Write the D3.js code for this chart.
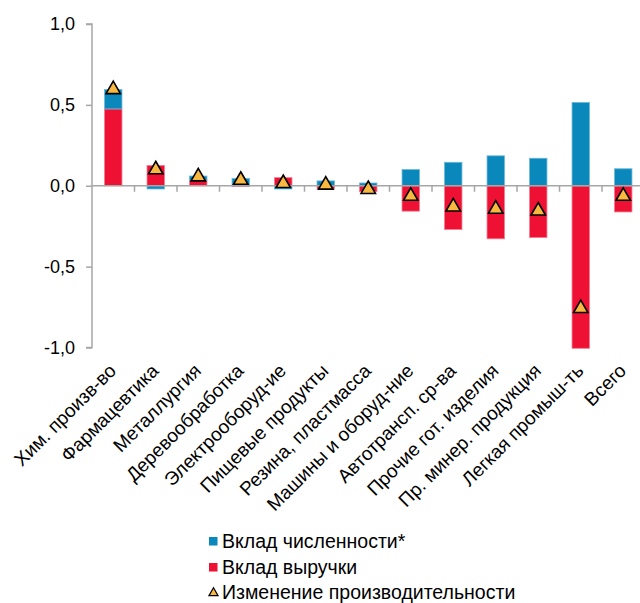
<!DOCTYPE html>
<html>
<head>
<meta charset="utf-8">
<script src="https://cdn.jsdelivr.net/npm/d3@7/dist/d3.min.js"></script>
<style>
  html, body { margin: 0; padding: 0; background: #fff; }
  svg { display: block; font-family: Arial, "Liberation Sans", sans-serif; }
</style>
</head>
<body>
<svg id="chart" width="640" height="603"></svg>
<script>
// Industry breakdown: contributions of headcount and revenue to productivity change
const categories = [
  "Хим. произв-во", "Фармацевтика", "Металлургия", "Деревообработка",
  "Электрооборуд-ие", "Пищевые продукты", "Резина, пластмасса",
  "Машины и оборуд-ние", "Автотрансп. ср-ва", "Прочие гот. изделия",
  "Пр. минер. продукция", "Легкая промыш-ть", "Всего"
];
const headcountContribution = [0.12, -0.02, 0.025, 0.045, -0.02, 0.03, 0.017, 0.10, 0.145, 0.185, 0.17, 0.515, 0.105];
const revenueContribution   = [0.475, 0.125, 0.035, -0.005, 0.05, -0.02, -0.037, -0.157, -0.27, -0.328, -0.32, -1.005, -0.162];
const productivityChange    = [0.595, 0.10, 0.056, 0.035, 0.015, 0.005, -0.022, -0.064, -0.13, -0.144, -0.155, -0.758, -0.064];
const yTicks = [1.0, 0.5, 0.0, -0.5, -1.0];
const legendLabels = ["Вклад численности*", "Вклад выручки", "Изменение производительности"];

const COLOR_HEAD = "#0a88bc";
const COLOR_REV = "#ee1133";
const COLOR_TRI = "#f9b840";
const AXIS = "#a6a6a6";

const svg = d3.select("#chart");
const plotLeft = 92, plotRight = 644.5, plotTop = 24, plotBottom = 347.5;

const x = d3.scaleBand().domain(categories).range([plotLeft, plotRight]).paddingInner(0.59).paddingOuter(0.295);
const y = d3.scaleLinear().domain([-1, 1]).range([plotBottom, plotTop]);

const rows = categories.map((c, i) => ({
  cat: c, revenue: revenueContribution[i], headcount: headcountContribution[i]
}));
const stack = d3.stack().keys(["revenue", "headcount"]).offset(d3.stackOffsetDiverging);
const series = stack(rows);
const colors = { revenue: COLOR_REV, headcount: COLOR_HEAD };
const strokes = { revenue: "#f27a8e", headcount: "#6cb8d8" };

// stacked bars
svg.append("g").selectAll("g").data(series).join("g")
  .attr("fill", s => colors[s.key])
  .attr("stroke", s => strokes[s.key])
  .attr("stroke-width", 0.8)
  .selectAll("rect").data(s => s).join("rect")
  .attr("x", d => x(d.data.cat))
  .attr("width", x.bandwidth())
  .attr("y", d => y(Math.max(d[0], d[1])))
  .attr("height", d => Math.abs(y(d[0]) - y(d[1])));

// y axis
const yAxis = d3.axisLeft(y).tickValues(yTicks).tickSize(6).tickPadding(11)
  .tickFormat(v => d3.format(".1f")(v).replace(".", ",").replace("−", "-"));
const gy = svg.append("g").attr("transform", `translate(${plotLeft},0)`).call(yAxis);
gy.select(".domain").attr("stroke", AXIS).attr("stroke-width", 1.5).attr("d", `M-6,${plotTop}H0V${plotBottom}H-6`);
gy.selectAll(".tick line").attr("stroke", AXIS).attr("stroke-width", 1.5);
gy.selectAll(".tick text").attr("fill", "#000").style("font-size", "18px");

// x axis along zero with boundary ticks
const zero = y(0);
const gx = svg.append("g");
gx.append("line").attr("x1", plotLeft).attr("x2", 660).attr("y1", zero).attr("y2", zero)
  .attr("stroke", AXIS).attr("stroke-width", 1.5);
const step = x.step();
gx.selectAll("line.b").data(d3.range(1, categories.length + 1)).join("line")
  .attr("class", "b")
  .attr("x1", i => plotLeft + i * step).attr("x2", i => plotLeft + i * step)
  .attr("y1", zero).attr("y2", zero + 6)
  .attr("stroke", AXIS).attr("stroke-width", 1.5);

// category labels
svg.append("g").selectAll("text").data(categories).join("text")
  .attr("transform", c => `translate(${x(c) + x.bandwidth() / 2 + 4},372) rotate(-45)`)
  .attr("text-anchor", "end")
  .style("font-size", "19px")
  .attr("fill", "#000")
  .text(c => c);

// productivity markers
const tri = d3.symbol().type(d3.symbolTriangle).size(90);
svg.append("g").selectAll("path").data(categories).join("path")
  .attr("transform", (c, i) => `translate(${x(c) + x.bandwidth() / 2},${y(productivityChange[i])})`)
  .attr("d", tri)
  .attr("fill", COLOR_TRI)
  .attr("stroke", "#000")
  .attr("stroke-width", 1.6);

// legend
const lg = svg.append("g");
const lx = 209, rowsY = [541, 567, 592];
lg.append("rect").attr("x", lx).attr("y", rowsY[0] - 4).attr("width", 8.5).attr("height", 8.5).attr("fill", COLOR_HEAD);
lg.append("rect").attr("x", lx).attr("y", rowsY[1] - 4).attr("width", 8.5).attr("height", 8.5).attr("fill", COLOR_REV);
lg.append("path").attr("transform", `translate(${lx + 4.5},${rowsY[2] + 1})`)
  .attr("d", d3.symbol().type(d3.symbolTriangle).size(36))
  .attr("fill", COLOR_TRI).attr("stroke", "#000").attr("stroke-width", 1.2);
lg.selectAll("text").data(legendLabels).join("text")
  .attr("x", 222).attr("y", (d, i) => rowsY[i] + 6.5)
  .style("font-size", "19.5px").attr("fill", "#000")
  .text(d => d);
</script>
</body>
</html>
